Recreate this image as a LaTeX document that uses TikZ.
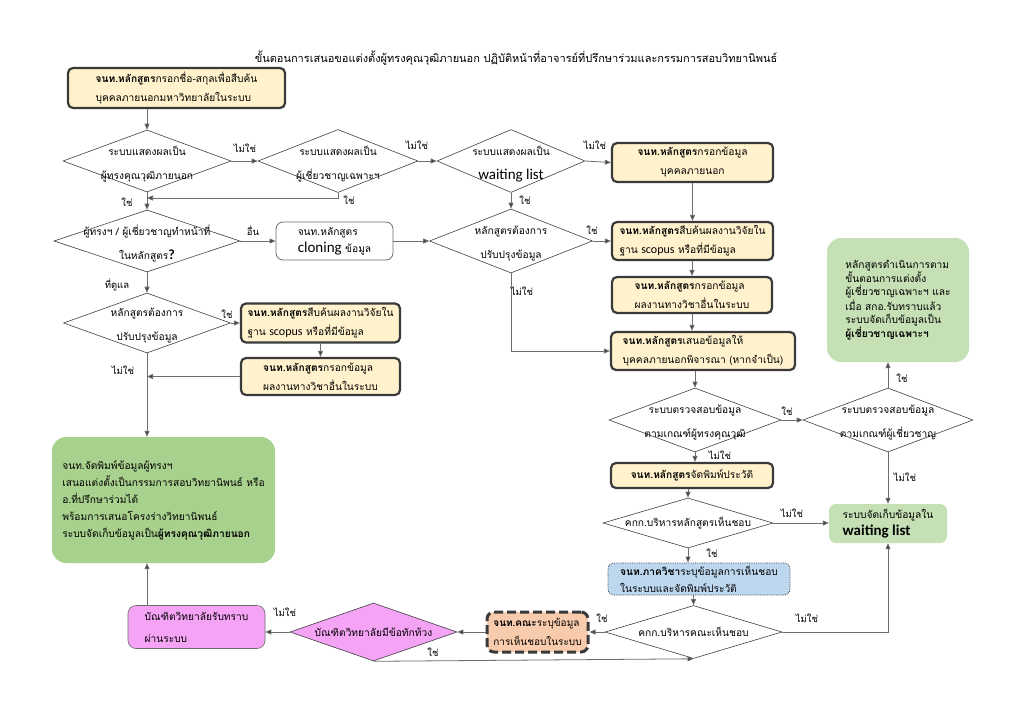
\documentclass[tikz,border=0pt]{standalone}
\usepackage{fontspec}
\setmainfont{Loma}[Script=Thai]
\newfontfamily\latf{Carlito}
\usetikzlibrary{shapes.geometric,arrows.meta}
\definecolor{yfill}{HTML}{FFF2CC}
\definecolor{bord}{HTML}{3A3A3A}
\definecolor{linec}{HTML}{6E6E6E}
\definecolor{dline}{HTML}{404040}
\definecolor{lgreen}{HTML}{C5E0B4}
\definecolor{mgreen}{HTML}{A9D18E}
\definecolor{lblue}{HTML}{BDD7EE}
\definecolor{pinkf}{HTML}{F5A3F5}
\definecolor{peach}{HTML}{F8CBAD}
\newcommand{\bodyfnt}{\fontsize{10.2}{19}\selectfont}
\newcommand{\lblfnt}{\fontsize{9.5}{11}\selectfont}
\newcommand{\latbig}[2]{{\latf\fontsize{#1}{#1}\selectfont #2}}
\begin{document}
\begin{tikzpicture}[x=1pt,y=-1pt,
  arr/.style={draw=linec, line width=0.8pt, -{Triangle[length=6pt,width=5pt,fill=dline]}},
  ybox/.style={draw=bord, line width=2.2pt, rounded corners=5pt, fill=yfill, align=left, font=\bodyfnt, inner sep=1pt},
  dia/.style={diamond, draw=dline, line width=0.6pt, inner sep=0pt},
  dtext/.style={font=\fontsize{10.2}{24}\selectfont, align=center, inner sep=0pt},
  dtwo/.style={dtext, yshift=-3pt},
  lbl/.style={font=\lblfnt, inner sep=1pt},
  gbox/.style={fill=#1, rounded corners=14pt, align=left, inner sep=2pt},
]
\fill[white] (0,0) rectangle (1024,725);
\useasboundingbox (0,0) rectangle (1024,725);

\node[font=\fontsize{11}{13}\selectfont] (title) at (516,58) {ขั้นตอนการเสนอขอแต่งตั้งผู้ทรงคุณวุฒิภายนอก ปฏิบัติหน้าที่อาจารย์ที่ปรึกษาร่วมและกรรมการสอบวิทยานิพนธ์};

% boxes
\node[ybox, minimum width=217pt, minimum height=40pt] (a) at (176.5,88) {\textbf{จนท.หลักสูตร}กรอกชื่อ-สกุลเพื่อสืบค้น\\บุคคลภายนอกมหาวิทยาลัยในระบบ};
\node[ybox, align=center, minimum width=161pt, minimum height=39pt] (b) at (692.5,162.5) {\textbf{จนท.หลักสูตร}กรอกข้อมูล\\บุคคลภายนอก};
\node[ybox, minimum width=161pt, minimum height=38pt] (c) at (692.5,241) {\textbf{จนท.หลักสูตร}สืบค้นผลงานวิจัยใน\\ฐาน \latbig{12}{scopus} หรือที่มีข้อมูล};
\node[ybox, minimum width=160pt, minimum height=36pt] (d) at (692,295) {\textbf{จนท.หลักสูตร}กรอกข้อมูล\\ผลงานทางวิชาอื่นในระบบ};
\node[ybox, minimum width=184pt, minimum height=38pt] (e) at (703,351) {\textbf{จนท.หลักสูตร}เสนอข้อมูลให้\\บุคคลภายนอกพิจารณา (หากจำเป็น)};
\node[ybox, minimum width=159pt, minimum height=39pt] (l) at (320.5,323) {\textbf{จนท.หลักสูตร}สืบค้นผลงานวิจัยใน\\ฐาน \latbig{12}{scopus} หรือที่มีข้อมูล};
\node[ybox, minimum width=159pt, minimum height=37pt] (m) at (320.5,376.5) {\textbf{จนท.หลักสูตร}กรอกข้อมูล\\ผลงานทางวิชาอื่นในระบบ};
\node[ybox, align=center, minimum width=162pt, minimum height=25pt] (f) at (692,475.5) {\textbf{จนท.หลักสูตร}จัดพิมพ์ประวัติ};
\node[draw=linec, line width=0.8pt, rounded corners=7pt, fill=white, align=left, font=\fontsize{10.2}{17}\selectfont, minimum width=117pt, minimum height=38pt, inner sep=2pt] (k) at (334.5,241) {จนท.หลักสูตร\\\latbig{15}{cloning} ข้อมูล};
\node[draw=dline, densely dotted, line width=0.8pt, rounded corners=6pt, fill=lblue, align=left, font=\fontsize{10.2}{17}\selectfont, minimum width=182pt, minimum height=32pt, inner sep=2pt] (h) at (699,579) {\textbf{จนท.ภาควิชา}ระบุข้อมูลการเห็นชอบ\\ในระบบและจัดพิมพ์ประวัติ};
\node[draw=bord, dash pattern=on 9pt off 4pt, line width=3pt, rounded corners=7pt, fill=peach, align=left, font=\fontsize{10}{19}\selectfont, minimum width=101pt, minimum height=40pt, inner sep=1pt] (i) at (537.5,632) {\textbf{จนท.คณะ}ระบุข้อมูล\\การเห็นชอบในระบบ};
\node[draw=linec, line width=0.6pt, rounded corners=8pt, fill=pinkf, align=left, font=\fontsize{10.2}{22}\selectfont, minimum width=137pt, minimum height=43pt, inner sep=2pt] (j) at (196.5,627) {บัณฑิตวิทยาลัยรับทราบ\\ผ่านระบบ};
\node[gbox=mgreen, font=\fontsize{10.2}{17}\selectfont, minimum width=223pt, minimum height=126pt] (g3) at (163.5,500) {จนท.จัดพิมพ์ข้อมูลผู้ทรงฯ\\เสนอแต่งตั้งเป็นกรรมการสอบวิทยานิพนธ์ หรือ\\อ.ที่ปรึกษาร่วมได้\\พร้อมการเสนอโครงร่างวิทยานิพนธ์\\ระบบจัดเก็บข้อมูลเป็น\textbf{ผู้ทรงคุณวุฒิภายนอก}};
\node[gbox=lgreen, font=\fontsize{10.2}{13}\selectfont, minimum width=142pt, minimum height=124pt] (g1) at (898,300) {หลักสูตรดำเนินการตาม\\ขั้นตอนการแต่งตั้ง\\ผู้เชี่ยวชาญเฉพาะฯ และ\\เมื่อ สกอ.รับทราบแล้ว\\ระบบจัดเก็บข้อมูลเป็น\\\textbf{ผู้เชี่ยวชาญเฉพาะฯ}};
\node[gbox=lgreen, rounded corners=7pt, font=\fontsize{10.2}{17}\selectfont, minimum width=118pt, minimum height=39pt] (g2) at (888,523.5) {ระบบจัดเก็บข้อมูลใน\\{\latf\bfseries\fontsize{15}{15}\selectfont waiting list}};

% diamonds
\node[dia, minimum width=168pt, minimum height=62pt, label={[dtwo]center:{ระบบแสดงผลเป็น\\ผู้ทรงคุณวุฒิภายนอก}}] (d1) at (147,161) {};
\node[dia, minimum width=160pt, minimum height=63pt, label={[dtwo]center:{ระบบแสดงผลเป็น\\ผู้เชี่ยวชาญเฉพาะฯ}}] (d2) at (338,161) {};
\node[dia, minimum width=148pt, minimum height=63pt, label={[dtwo]center:{ระบบแสดงผลเป็น\\\latbig{15}{waiting list}}}] (d3) at (511,161) {};
\node[dia, minimum width=186pt, minimum height=62pt, label={[dtwo]center:{ผู้ทรงฯ / ผู้เชี่ยวชาญทำหน้าที่\\ในหลักสูตร{\latf\bfseries\fontsize{14}{14}\selectfont ?}}}] (d4) at (147,241) {};
\node[dia, minimum width=163pt, minimum height=64pt, label={[dtwo]center:{หลักสูตรต้องการ\\ปรับปรุงข้อมูล}}] (d5) at (511,241) {};
\node[dia, minimum width=167pt, minimum height=60pt, label={[dtwo]center:{หลักสูตรต้องการ\\ปรับปรุงข้อมูล}}] (d11) at (147,323) {};
\node[dia, minimum width=172pt, minimum height=64pt, label={[dtwo]center:{ระบบตรวจสอบข้อมูล\\ตามเกณฑ์ผู้ทรงคุณวุฒิ}}] (d6) at (695,420) {};
\node[dia, minimum width=170pt, minimum height=64pt, label={[dtwo]center:{ระบบตรวจสอบข้อมูล\\ตามเกณฑ์ผู้เชี่ยวชาญ}}] (d7) at (888,420) {};
\node[dia, minimum width=170pt, minimum height=50pt, label={[dtext]center:{คกก.บริหารหลักสูตรเห็นชอบ}}] (d8) at (688,523) {};
\node[dia, minimum width=177pt, minimum height=53pt, label={[dtext]center:{คกก.บริหารคณะเห็นชอบ}}] (d9) at (693.5,632) {};
\node[dia, fill=pinkf, minimum width=167pt, minimum height=58pt, label={[dtext]center:{บัณฑิตวิทยาลัยมีข้อทักท้วง}}] (d10) at (373.5,632) {};

% connectors
\draw[arr] (d1.north |- a.south) -- (d1.north);
\draw[arr] (d1.east) -- (d2.west);
\draw[arr] (d2.east) -- (d3.west);
\draw[arr] (d3.east) -- (b.west);
\coordinate (j1) at (147,198);
\draw[arr] (d2.south) |- (j1);
\draw[arr] (d1.south) -- (d4.north);
\draw[arr] (d3.south) -- (d5.north);
\draw[arr] (b.south) -- (c.north);
\draw[arr] (d.north |- c.south) -- (d.north);
\draw[arr] (d.south) -- (d.south |- e.north);
\draw[arr] (d5.east) -- (c.west);
\draw[arr] (d5.south) |- (e.west);
\draw[arr] (d4.east) -- (k.west);
\draw[arr] (k.east) -- (d5.west);
\draw[arr] (d4.south) -- (d11.north);
\draw[arr] (d11.east) -- (l.west);
\draw[arr] (l.south) -- (m.north);
\draw[arr] (m.west) -- (d11.south |- m.west);
\draw[arr] (d11.south) -- (d11.south |- g3.north);
\draw[arr] (e.south -| d6.north) -- (d6.north);
\draw[arr] (d6.east) -- (d7.west);
\draw[arr] (d7.north) -- (d7.north |- g1.south);
\draw[arr] (d7.south) -- (d7.south |- g2.north);
\draw[arr] (d6.south) -- (d6.south |- f.north);
\draw[arr] (d8.north |- f.south) -- (d8.north);
\draw[arr] (d8.east) -- (g2.west |- d8.east);
\draw[arr] (d8.south) -- (d8.south |- h.north);
\draw[arr] (d9.north |- h.south) -- (d9.north);
\draw[arr] (d9.east) -| (g2.south);
\draw[arr] (d9.west) -- (i.east |- d9.west);
\draw[arr] (i.west) -- (d10.east);
\draw[arr] (d10.west) -- (j.east |- d10.west);
\draw[arr] (d10.south) -- (d9.south);
\coordinate (jt) at (j.north -| d11.south);
\draw[arr] (jt) -- (jt |- g3.south);

% labels
\node[lbl] (n1) at (245,148) {ไม่ใช่};
\node[lbl] (n2) at (417,145) {ไม่ใช่};
\node[lbl] (n3) at (595,145) {ไม่ใช่};
\node[lbl] (y1) at (349,200) {ใช่};
\node[lbl] (y2) at (525,200) {ใช่};
\node[lbl] (y3) at (127,202) {ใช่};
\node[lbl] (o1) at (253,231) {อื่น};
\node[lbl] (t1) at (117,285) {ที่ดูแล};
\node[lbl] (y4) at (227,314) {ใช่};
\node[lbl] (n4) at (123,370) {ไม่ใช่};
\node[lbl] (y5) at (592,230) {ใช่};
\node[lbl] (n5) at (522,291) {ไม่ใช่};
\node[lbl] (y6) at (787,411) {ใช่};
\node[lbl] (n6) at (720,455) {ไม่ใช่};
\node[lbl] (y7) at (902,378) {ใช่};
\node[lbl] (n7) at (905,477) {ไม่ใช่};
\node[lbl] (n8) at (792,513) {ไม่ใช่};
\node[lbl] (y8) at (712,553) {ใช่};
\node[lbl] (y9) at (602,618) {ใช่};
\node[lbl] (n9) at (807,618) {ไม่ใช่};
\node[lbl] (n10) at (285,612) {ไม่ใช่};
\node[lbl] (y10) at (433,652) {ใช่};
\end{tikzpicture}
\end{document}
